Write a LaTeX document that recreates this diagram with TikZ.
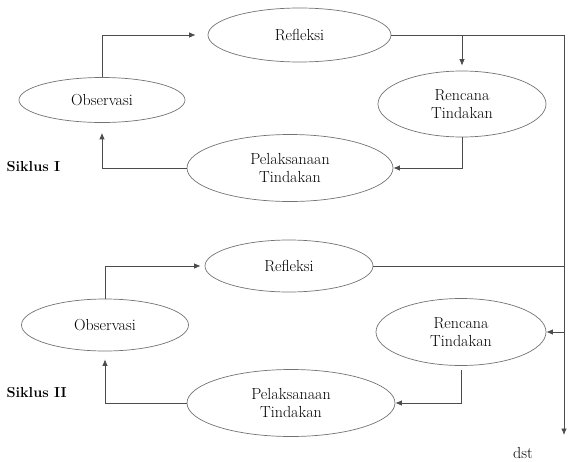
\documentclass[tikz,border=0pt]{standalone}
\usepackage{tikz}
\usetikzlibrary{arrows.meta,shapes.geometric}
\tikzset{
  cyclearrow/.style={-{Latex[length=6.5pt,width=5.5pt]}, line width=0.8pt,
    draw=black!70},
  cycleline/.style={line width=0.8pt, draw=black!70},
  cyclestage/.style={ellipse, draw=black!55, line width=0.7pt,
    align=center, inner sep=0pt, text=black,
    font=\fontsize{16}{18}\selectfont},
  cyclelabel/.style={anchor=west, text=black,
    font=\fontsize{14.5}{18}\selectfont\bfseries}
}
\begin{document}
\begin{tikzpicture}[x=1pt, y=-1pt]
  \useasboundingbox (0,0) rectangle (568,461);

  \node[cyclestage, minimum width=183pt, minimum height=54pt] (refI)
    at (299.5,35) {Refleksi};
  \node[cyclestage, minimum width=166pt, minimum height=45pt] (obsI)
    at (102,100) {Observasi};
  \node[cyclestage, minimum width=168pt, minimum height=66pt] (renI)
    at (462,104) {Rencana\\Tindakan};
  \node[cyclestage, minimum width=206pt, minimum height=67pt] (pelI)
    at (290,168) {Pelaksanaan\\Tindakan};
  \node[cyclelabel] (sikI) at (3,167) {Siklus I};

  \node[cyclestage, minimum width=168pt, minimum height=52pt] (refII)
    at (289,266) {Refleksi};
  \node[cyclestage, minimum width=167pt, minimum height=52pt] (obsII)
    at (105,325) {Observasi};
  \node[cyclestage, minimum width=170pt, minimum height=67pt] (renII)
    at (461,332) {Rencana\\Tindakan};
  \node[cyclestage, minimum width=208pt, minimum height=67pt] (pelII)
    at (291,403) {Pelaksanaan\\Tindakan};
  \node[cyclelabel] (sikII) at (3,393) {Siklus II};

  \coordinate (dstend) at (564,435);
  \node[font=\fontsize{16}{18}\selectfont, text=black] (dst)
    at (523,453) {dst};

  \draw[cyclearrow, shorten >=12pt] (obsI.north) |- (refI.west);
  \draw[cyclearrow] (refI.east) -| (dstend);
  \draw[cyclearrow, shorten >=5pt] (renI.north |- refI.east) -- (renI.north);
  \draw[cyclearrow] (renI.south) |- (pelI.east);
  \draw[cyclearrow, shorten >=10pt] (pelI.west) -| (obsI.south);

  \draw[cyclearrow, shorten >=4pt] (obsII.north) |- (refII.west);
  \draw[cycleline] (refII.east) -- (refII.east -| dstend);
  \draw[cyclearrow] (renII.east -| dstend) -- (renII.east);
  \draw[cyclearrow, shorten <=4pt] (renII.south) |- (pelII.east);
  \draw[cyclearrow, shorten >=8pt] (pelII.west) -| (obsII.south);
\end{tikzpicture}
\end{document}
